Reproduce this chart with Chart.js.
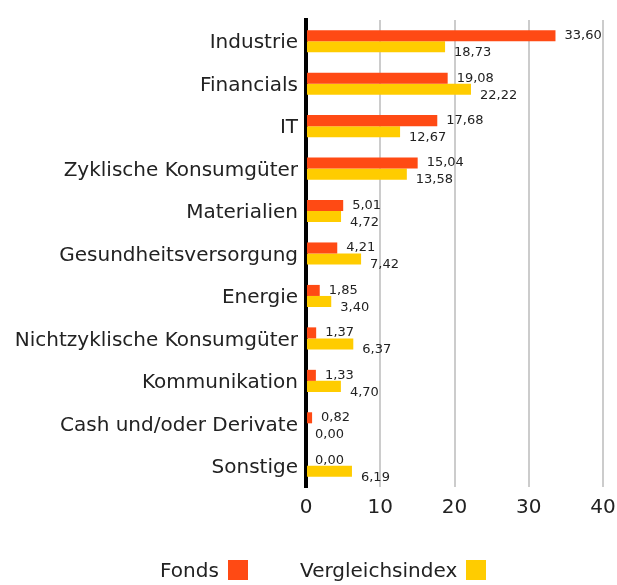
<!DOCTYPE html>
<html>
<head>
<meta charset="utf-8">
<script src="https://cdn.jsdelivr.net/npm/chart.js@4/dist/chart.umd.min.js"></script>
<style>
  html, body { margin: 0; padding: 0; background: #fff; }
  #wrap { position: relative; width: 617px; height: 585px; }
  .item { position: absolute; top: 558px; font: 20px "DejaVu Sans", sans-serif; color: #222; display: flex; align-items: center; }
  .box { width: 20px; height: 20px; margin-left: 9px; }
</style>
</head>
<body>
<div id="wrap">
  <canvas id="chart" width="617" height="585"></canvas>
  <div class="item" style="left:160px">Fonds<span class="box" style="background:#FF4A14"></span></div>
  <div class="item" style="left:300px">Vergleichsindex<span class="box" style="background:#FFCC00"></span></div>
</div>
<script>
// Sektoren
const sektoren = ["Industrie", "Financials", "IT", "Zyklische Konsumgüter", "Materialien",
  "Gesundheitsversorgung", "Energie", "Nichtzyklische Konsumgüter", "Kommunikation",
  "Cash und/oder Derivate", "Sonstige"];
const fonds = [33.60, 19.08, 17.68, 15.04, 5.01, 4.21, 1.85, 1.37, 1.33, 0.82, 0.00];
const vergleichsindex = [18.73, 22.22, 12.67, 13.58, 4.72, 7.42, 3.40, 6.37, 4.70, 0.00, 6.19];
const xTicks = [0, 10, 20, 30, 40];

const rot = "#FF4A14";
const gelb = "#FFCC00";
const schrift = "'DejaVu Sans', sans-serif";

// Werte neben die Balken schreiben
const wertePlugin = {
  id: "werte",
  afterDatasetsDraw(chart) {
    const ctx = chart.ctx;
    ctx.save();
    ctx.font = "13px " + schrift;
    ctx.fillStyle = "#222";
    ctx.textBaseline = "middle";
    ctx.textAlign = "left";
    chart.data.datasets.forEach((ds, i) => {
      chart.getDatasetMeta(i).data.forEach((bar, j) => {
        const txt = ds.data[j].toFixed(2).replace(".", ",");
        const dy = i === 0 ? 0 : 6;
        ctx.fillText(txt, bar.x + 9, bar.y + dy);
      });
    });
    ctx.restore();
  }
};

new Chart(document.getElementById("chart"), {
  type: "bar",
  data: {
    labels: sektoren,
    datasets: [
      { label: "Fonds", data: fonds, backgroundColor: rot },
      { label: "Vergleichsindex", data: vergleichsindex, backgroundColor: gelb }
    ]
  },
  options: {
    indexAxis: "y",
    responsive: false,
    animation: false,
    layout: { padding: { top: 20, right: 14, bottom: 58, left: 0 } },
    datasets: { bar: { barPercentage: 1, categoryPercentage: 0.52 } },
    plugins: { legend: { display: false }, tooltip: { enabled: false } },
    scales: {
      x: {
        min: 0, max: 40,
        afterBuildTicks: s => { s.ticks = xTicks.map(v => ({ value: v })); },
        afterFit: s => { s.height = 40; s.paddingRight = 0; },
        grid: { color: "#cccccc", lineWidth: 2, drawTicks: false },
        border: { display: false },
        ticks: { font: { size: 20, family: schrift }, color: "#222", padding: 9 }
      },
      y: {
        afterFit: s => { s.width = 306; },
        grid: { display: false, drawTicks: false },
        border: { display: true, color: "#000", width: 4 },
        ticks: { font: { size: 20, family: schrift }, color: "#222", padding: 8, labelOffset: 2 }
      }
    }
  },
  plugins: [wertePlugin]
});
</script>
</body>
</html>
